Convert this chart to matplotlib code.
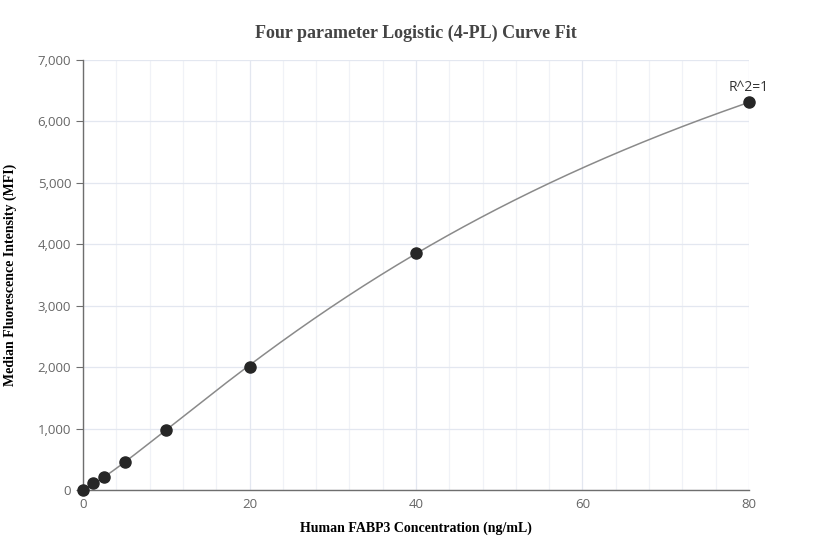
import numpy as np
import matplotlib.pyplot as plt
from matplotlib.ticker import FuncFormatter, MultipleLocator

conc = np.array([0, 1.25, 2.5, 5, 10, 20, 40, 80])
mfi = np.array([0, 115, 205, 462, 983, 2010, 3855, 6310])

x_ticks = [0, 20, 40, 60, 80]
y_ticks = [0, 1000, 2000, 3000, 4000, 5000, 6000, 7000]


def four_pl(x, a, b, c, d):
    return d + (a - d) / (1.0 + (x / c) ** b)


def fit_four_pl(x, y):
    # grid over b, c; a and d solved by linear least squares
    best = None
    for b in np.linspace(0.8, 2.0, 121):
        for c in np.geomspace(10, 1000, 300):
            g = 1.0 / (1.0 + (x / c) ** b)
            A = np.column_stack([g, 1 - g])
            coef, *_ = np.linalg.lstsq(A, y, rcond=None)
            err = np.sum((A @ coef - y) ** 2)
            if best is None or err < best[0]:
                best = (err, coef[0], b, c, coef[1])
    return best[1:]


a, b, c, d = fit_four_pl(conc, mfi)
x_fit = np.linspace(0, 80, 400)
y_fit = four_pl(x_fit, a, b, c, d)

fig = plt.figure(figsize=(8.32, 5.6), dpi=100)
ax = fig.add_axes([0.0998, 0.125, 0.8004, 0.768])

ax.plot(x_fit, y_fit, color="#8a8a8a", lw=1.1, zorder=2)
ax.plot(conc, mfi, "o", color="#262626", ms=8, zorder=3, clip_on=False)
ax.annotate("R^2=1", (conc[-1], mfi[-1]), xytext=(0, 5), textcoords="offset points",
            ha="center", va="bottom", fontsize=10, color="#333333", family="Open Sans")

ax.set_xlim(0, 80)
ax.set_ylim(0, 7000)
ax.set_xticks(x_ticks)
ax.set_yticks(y_ticks)
ax.xaxis.set_minor_locator(MultipleLocator(4))
ax.yaxis.set_major_formatter(FuncFormatter(lambda v, p: f"{int(v):,}"))

ax.grid(True, which="major", color="#e3e7f0", lw=0.9)
ax.grid(True, which="minor", axis="x", color="#f0f2f7", lw=0.9)
ax.set_axisbelow(True)

for s in ["top", "right"]:
    ax.spines[s].set_visible(False)
for s in ["left", "bottom"]:
    ax.spines[s].set_color("#6e6e6e")
    ax.spines[s].set_linewidth(1.0)

ax.tick_params(axis="y", length=5, color="#6e6e6e", labelcolor="#666666", labelsize=9.5)
ax.tick_params(axis="x", length=0, pad=6, labelcolor="#666666", labelsize=9.5)
ax.tick_params(which="minor", length=0)
for lab in ax.get_xticklabels() + ax.get_yticklabels():
    lab.set_family("Open Sans")

fig.text(0.5, 0.94, "Four parameter Logistic (4-PL) Curve Fit", ha="center", va="center",
         fontsize=13, fontweight="bold", color="#444444", family="Liberation Serif")
ax.set_xlabel("Human FABP3 Concentration (ng/mL)", fontsize=10, fontweight="bold",
              family="Liberation Serif", labelpad=7)
fig.text(0.012, 0.509, "Median Fluorescence Intensity (MFI)", rotation=90, ha="center",
         va="center", fontsize=10, fontweight="bold", family="Liberation Serif")

fig.savefig("out.png", dpi=100)
